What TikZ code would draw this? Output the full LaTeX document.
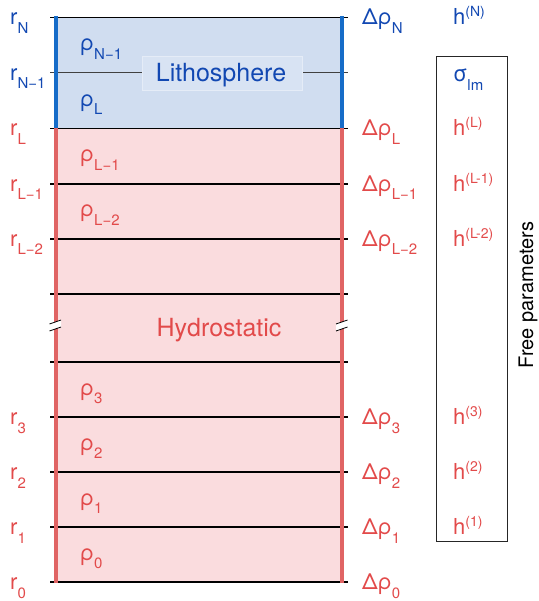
\documentclass[tikz,border=0pt]{standalone}
\usepackage{fontspec}
\setmainfont{TeX Gyre Heros}
\definecolor{bl}{RGB}{18,72,178}
\definecolor{blline}{RGB}{22,108,200}
\definecolor{blfill}{RGB}{208,221,240}
\definecolor{rd}{RGB}{226,74,74}
\definecolor{rdline}{RGB}{224,100,100}
\definecolor{rdfill}{RGB}{250,220,222}
\newcommand{\lsub}[1]{\raisebox{-8.5pt}{\fontsize{15}{15}\selectfont #1}}
\newcommand{\lsup}[1]{\raisebox{8pt}{\fontsize{14}{14}\selectfont #1}}
\tikzset{
  lab/.style={anchor=base west, inner sep=0pt, font=\fontsize{22}{26}\selectfont},
  layerline/.style={line width=1.3pt, black},
  thickv/.style={line width=4pt},
  brk/.style={line width=0.8pt, black},
}
\begin{document}
\begin{tikzpicture}[x=1pt,y=-1pt]
\useasboundingbox (0,0) rectangle (538,601);
% fills
\fill[blfill] (55.5,17.5) rectangle (342,128.5);
\fill[rdfill] (55.5,128.5) rectangle (342,582);
% layer lines
\draw[line width=1pt, black!75] (50,73) -- (348,73);
\foreach \y in {17.5,128.5,184,239,294,362,417,472,527,582}
  \draw[layerline] (50,\y) -- (348,\y);
% vertical lines
\draw[thickv, blline] (55.5,16.5) -- (55.5,128.5);
\draw[thickv, blline] (342,16.5) -- (342,128.5);
\draw[thickv, rdline] (55.5,128.5) -- (55.5,582.5);
\draw[thickv, rdline] (342,128.5) -- (342,582.5);
% break marks
\foreach \cx/\nm in {55.5/bl,342/br}{
  \fill[white] (\cx-6,324) -- (\cx+5.5,320) -- (\cx+5.5,327) -- (\cx-6,331) -- cycle;
  \draw[brk] (\cx-6,324) -- (\cx+5.5,320);
  \draw[brk] (\cx-6,331) -- (\cx+5.5,327);
}
% Lithosphere label box
\node[fill=blfill!82!white, draw=blfill!55!white, line width=0.6pt, minimum width=160pt, minimum height=34pt, inner sep=0pt] (lithobox) at (222.7,73) {};
\node[anchor=base, inner sep=0pt, text=bl, font=\fontsize{25}{29}\selectfont] (litho) at (221,81.7) {Lithosphere};
\node[anchor=base, inner sep=0pt, text=rd, font=\fontsize{25}{29}\selectfont] (hydro) at (219,336.7) {Hydrostatic};
% free parameter box
\draw[line width=0.9pt, black!85] (436.7,56.7) rectangle (507.7,541);
\node[rotate=90, inner sep=0pt, font=\fontsize{20}{24}\selectfont] (free) at (528,295) {Free parameters};
% left radius labels
\node[lab, text=bl] (rN) at (10,25) {r\lsub{N}};
\node[lab, text=bl] (rN1) at (10,80.5) {r\lsub{N−1}};
\node[lab, text=rd] (rL) at (10,136) {r\lsub{L}};
\node[lab, text=rd] (rL1) at (10,191.5) {r\lsub{L−1}};
\node[lab, text=rd] (rL2) at (10,246.5) {r\lsub{L−2}};
\node[lab, text=rd] (r3) at (10,424.5) {r\lsub{3}};
\node[lab, text=rd] (r2) at (10,479.5) {r\lsub{2}};
\node[lab, text=rd] (r1) at (10,534.5) {r\lsub{1}};
\node[lab, text=rd] (r0) at (10,589.5) {r\lsub{0}};
% density labels
\node[lab, text=bl] (pN1) at (80,51) {ρ\lsub{N−1}};
\node[lab, text=bl] (pL) at (80,106.5) {ρ\lsub{L}};
\node[lab, text=rd] (pL1) at (80,162) {ρ\lsub{L−1}};
\node[lab, text=rd] (pL2) at (80,217) {ρ\lsub{L−2}};
\node[lab, text=rd] (p3) at (80,395) {ρ\lsub{3}};
\node[lab, text=rd] (p2) at (80,450) {ρ\lsub{2}};
\node[lab, text=rd] (p1) at (80,505) {ρ\lsub{1}};
\node[lab, text=rd] (p0) at (80,560) {ρ\lsub{0}};
% density jumps
\node[lab, text=bl] (dN) at (362,25) {Δρ\lsub{N}};
\node[lab, text=rd] (dL) at (362,136) {Δρ\lsub{L}};
\node[lab, text=rd] (dL1) at (362,191.5) {Δρ\lsub{L−1}};
\node[lab, text=rd] (dL2) at (362,246.5) {Δρ\lsub{L−2}};
\node[lab, text=rd] (d3) at (362,424.5) {Δρ\lsub{3}};
\node[lab, text=rd] (d2) at (362,479.5) {Δρ\lsub{2}};
\node[lab, text=rd] (d1) at (362,534.5) {Δρ\lsub{1}};
\node[lab, text=rd] (d0) at (362,589.5) {Δρ\lsub{0}};
% free parameters
\node[lab, text=bl] (hN) at (453,25) {h\lsup{(N)}};
\node[lab, text=bl] (slm) at (453,81.7) {σ\lsub{lm}};
\node[lab, text=rd] (hL) at (453,136) {h\lsup{(L)}};
\node[lab, text=rd] (hL1) at (453,191.5) {h\lsup{(L-1)}};
\node[lab, text=rd] (hL2) at (453,246.5) {h\lsup{(L-2)}};
\node[lab, text=rd] (h3) at (453,424.5) {h\lsup{(3)}};
\node[lab, text=rd] (h2) at (453,479.5) {h\lsup{(2)}};
\node[lab, text=rd] (h1) at (453,534.5) {h\lsup{(1)}};
\end{tikzpicture}
\end{document}
